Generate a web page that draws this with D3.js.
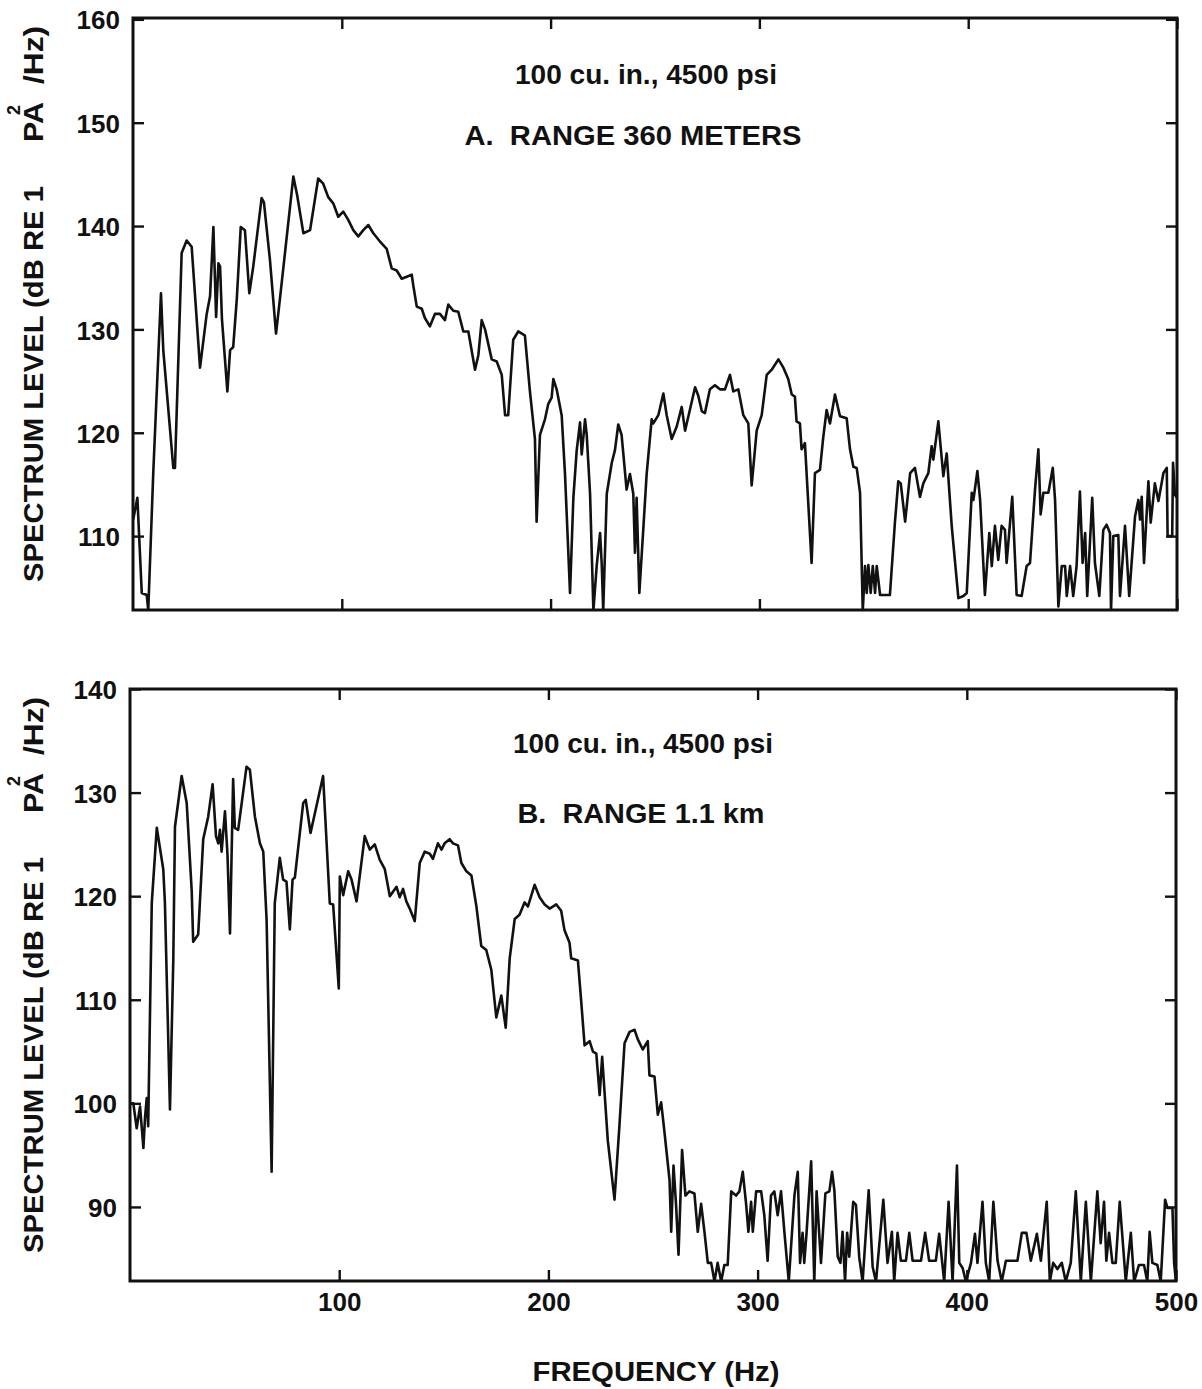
<!DOCTYPE html>
<html>
<head>
<meta charset="utf-8">
<title>Spectrum level - 100 cu. in., 4500 psi</title>
<script src="https://d3js.org/d3.v7.min.js"></script>
<style>
  body { margin: 0; background: #fff; }
  text { font-family: "Liberation Sans", Arial, Helvetica, sans-serif; font-weight: bold; fill: #111; white-space: pre; }
  .tick text { font-size: 26px; }
  .tick line { stroke: #111; stroke-width: 2.4px; }
</style>
</head>
<body>
<script>
// spectrum level (dB re 1 Pa^2/Hz) against frequency (Hz)
var spectrumA = [[0.1,111.6],[2.1,113.7],[4.2,104.5],[6.6,104.3],[7.3,102.8],[9.7,116.1],[13.4,133.5],[14.5,128.0],[19.3,116.6],[20.1,116.6],[23.3,137.4],[25.7,138.6],[28.1,138.0],[32.1,126.3],[35.3,131.5],[36.9,133.2],[38.5,139.9],[39.8,131.2],[40.9,136.4],[41.7,136.1],[42.6,131.0],[45.2,124.0],[46.5,128.0],[48.0,128.3],[49.7,132.9],[51.6,139.9],[53.6,139.6],[55.7,133.5],[57.6,136.1],[61.6,142.7],[62.7,142.3],[65.6,136.7],[68.5,129.6],[70.4,133.0],[76.8,144.8],[78.6,143.0],[81.6,139.3],[84.8,139.6],[88.7,144.6],[91.1,144.1],[93.5,142.8],[95.9,142.2],[98.3,140.9],[100.7,141.4],[103.1,140.6],[105.5,139.6],[107.9,139.0],[110.3,139.6],[112.7,140.1],[115.1,139.3],[118.3,138.5],[121.5,137.8],[123.9,135.9],[126.3,135.7],[128.7,134.9],[131.1,135.1],[133.5,135.3],[134.2,134.3],[135.9,132.2],[138.3,132.0],[139.8,131.1],[142.2,130.3],[144.6,131.5],[147.0,131.5],[149.4,130.9],[151.0,132.4],[153.4,131.8],[155.8,131.7],[158.2,129.8],[160.6,129.8],[163.8,126.1],[165.4,127.5],[167.0,130.9],[168.6,130.0],[171.8,127.1],[174.2,126.9],[176.6,125.6],[178.2,121.7],[179.7,121.7],[182.1,129.0],[184.5,129.8],[186.2,129.6],[187.7,129.4],[190.1,124.0],[192.5,119.4],[193.3,111.4],[194.9,119.8],[197.3,121.3],[198.9,122.8],[200.5,123.4],[201.3,125.2],[202.9,124.2],[205.3,121.7],[206.9,116.0],[209.3,104.5],[210.9,113.7],[212.5,118.3],[214.1,121.0],[214.9,117.9],[216.5,121.3],[217.3,119.8],[218.9,114.1],[220.5,102.8],[222.1,107.2],[223.7,110.3],[224.5,107.2],[225.2,102.8],[226.9,114.1],[229.3,117.1],[230.8,118.3],[232.4,120.8],[234.0,119.8],[236.4,114.5],[238.0,116.0],[239.6,114.1],[240.4,108.4],[241.2,113.7],[242.5,104.5],[244.4,110.7],[246.0,116.0],[248.4,121.3],[249.2,120.9],[251.6,121.7],[254.0,123.8],[255.6,121.7],[258.0,119.4],[260.4,120.6],[262.8,122.5],[264.4,120.2],[266.8,122.3],[269.2,124.4],[270.7,123.6],[272.4,122.1],[273.9,121.9],[276.3,124.2],[278.7,124.6],[281.1,124.2],[283.5,124.2],[285.9,125.6],[287.5,124.0],[289.9,124.2],[292.3,121.7],[294.7,120.9],[296.3,114.9],[298.7,120.2],[301.1,121.7],[303.5,125.6],[305.9,126.1],[309.1,127.1],[311.5,126.3],[313.8,125.2],[315.5,123.7],[317.0,123.5],[317.8,121.1],[319.4,120.9],[320.2,118.4],[321.8,119.0],[325.0,107.4],[326.6,116.1],[329.0,116.4],[330.6,119.6],[332.2,122.2],[333.8,120.9],[336.2,123.7],[338.6,121.6],[341.8,121.4],[343.4,118.4],[345.0,116.7],[346.6,116.6],[348.2,114.2],[349.5,102.8],[350.6,107.1],[351.4,104.5],[352.2,107.2],[353.3,104.5],[354.3,107.1],[355.4,104.5],[356.2,107.1],[357.8,104.3],[362.5,104.3],[364.9,111.3],[366.5,115.3],[367.7,115.1],[369.8,111.4],[372.2,116.1],[374.5,116.6],[376.9,113.8],[378.5,115.1],[380.9,116.1],[382.5,118.7],[383.3,117.4],[385.7,121.1],[388.1,115.8],[389.7,118.0],[392.1,111.0],[395.3,104.0],[397.7,104.2],[399.3,104.5],[401.7,114.2],[402.5,113.5],[404.4,116.3],[405.7,113.5],[408.0,104.3],[410.1,110.3],[411.3,107.1],[412.8,111.0],[414.4,107.7],[416.0,111.0],[417.6,110.6],[418.4,107.4],[421.1,113.8],[423.2,104.3],[425.6,104.2],[428.0,107.1],[429.6,107.4],[432.0,114.5],[433.6,118.4],[434.7,112.1],[436.0,114.2],[438.4,114.2],[440.5,116.6],[441.6,113.5],[443.2,103.2],[444.8,107.1],[446.4,107.1],[447.2,104.2],[448.8,107.1],[450.3,104.2],[451.9,107.1],[453.5,114.3],[454.8,107.4],[456.0,110.3],[457.0,104.2],[459.4,113.7],[460.7,107.4],[462.8,104.2],[464.7,110.6],[466.3,111.1],[467.9,110.3],[468.4,102.8],[469.5,110.0],[471.9,110.1],[472.7,104.2],[475.1,111.0],[477.1,104.2],[479.9,111.9],[481.5,113.5],[482.3,111.6],[483.1,113.8],[484.2,107.4],[486.3,115.3],[487.4,111.3],[489.4,115.1],[491.1,113.4],[493.5,116.1],[495.1,116.6],[495.5,110.0],[497.7,110.0],[498.1,117.1],[499.0,114.0],[500,113.7]];

var spectrumB = [[0,100.0],[1.6,100.0],[3.2,97.6],[4.8,99.7],[6.4,95.7],[7.2,98.7],[8.0,100.5],[8.7,97.8],[10.4,119.3],[12.8,126.6],[15.9,122.6],[16.7,119.3],[19.1,99.4],[20.7,113.9],[21.5,126.7],[24.7,131.6],[27.1,129.0],[29.5,120.5],[30.2,115.6],[32.6,116.3],[35.0,125.5],[37.4,127.7],[39.5,130.8],[41.1,125.8],[42.2,125.1],[43.0,126.4],[43.8,124.3],[45.4,128.2],[46.6,124.0],[47.8,116.4],[49.3,131.3],[50.1,126.6],[51.7,126.4],[55.7,132.5],[57.3,132.2],[59.7,127.7],[62.1,125.1],[63.7,124.3],[65.3,117.7],[67.7,93.4],[69.2,119.3],[71.6,123.7],[73.2,121.6],[74.8,121.4],[76.4,116.8],[77.7,121.6],[78.8,121.8],[82.8,129.0],[84.0,129.3],[86.3,126.1],[92.3,131.6],[95.5,119.3],[97.1,119.2],[99.8,111.1],[100.3,121.9],[101.9,120.1],[104.3,122.4],[105.9,121.6],[108.3,119.5],[112.2,125.8],[114.6,124.5],[117.0,125.0],[119.4,123.5],[121.8,122.6],[124.2,120.0],[127.4,120.9],[128.9,119.9],[130.5,120.7],[132.1,119.5],[133.7,118.8],[136.1,117.6],[138.5,123.2],[140.9,124.3],[143.3,124.1],[144.8,123.6],[147.2,125.1],[148.9,124.5],[150.4,125.1],[152.8,125.5],[154.4,125.1],[156.8,124.9],[158.4,123.2],[160.8,122.4],[163.2,122.0],[165.6,119.0],[167.9,115.2],[170.3,114.8],[172.7,112.9],[175.1,108.3],[177.5,110.4],[179.6,107.3],[181.5,114.0],[183.9,117.8],[186.2,118.2],[188.6,119.4],[190.2,119.0],[193.4,121.1],[195.8,119.9],[198.2,119.2],[200.6,118.8],[203.8,119.2],[206.1,118.6],[207.7,116.7],[210.1,115.5],[210.9,114.0],[214.1,113.8],[215.7,109.8],[217.3,105.6],[219.7,106.0],[221.3,105.0],[222.9,104.8],[224.5,100.8],[225.7,104.5],[228.4,96.4],[231.6,90.7],[234.0,98.0],[236.4,105.8],[238.8,106.9],[241.2,107.1],[242.7,106.2],[245.1,105.2],[247.5,106.0],[248.3,102.7],[250.7,102.6],[252.3,98.9],[253.9,100.1],[255.5,97.2],[257.9,92.6],[258.7,87.6],[259.8,94.0],[261.0,90.3],[262.2,85.4],[263.9,95.5],[265.5,91.1],[267.4,91.5],[269.8,91.3],[271.4,87.6],[273.0,90.3],[274.6,87.6],[276.2,84.6],[277.8,84.6],[279.4,82.8],[280.9,84.6],[282.6,82.8],[284.1,84.4],[285.7,84.4],[287.4,91.5],[289.7,91.1],[291.3,91.5],[292.9,93.4],[294.5,90.3],[295.6,87.6],[296.9,90.5],[297.7,87.6],[299.3,91.5],[301.7,91.5],[303.2,89.2],[304.8,84.8],[306.4,91.1],[308.0,91.5],[309.6,89.2],[311.2,91.5],[312.8,87.6],[314.9,82.8],[317.6,91.1],[319.2,93.4],[320.3,84.6],[321.5,87.5],[322.3,84.6],[323.4,87.5],[325.6,94.4],[327.1,82.8],[328.2,91.5],[330.3,84.6],[332.4,91.3],[334.3,91.5],[335.6,93.4],[336.7,91.6],[338.3,85.2],[339.6,84.6],[340.6,87.6],[341.8,82.8],[342.8,87.5],[343.8,85.2],[345.7,90.5],[347.0,90.2],[348.6,85.1],[350.2,82.8],[353.1,91.6],[355.0,84.2],[356.6,82.8],[360.1,90.7],[362.1,84.6],[364.2,87.6],[365.3,82.8],[366.9,87.5],[368.5,84.8],[370.9,84.8],[372.5,87.5],[374.1,84.8],[378.1,84.8],[380.1,87.5],[382.0,84.8],[385.2,84.8],[386.8,87.4],[389.2,82.8],[391.3,90.5],[393.2,82.8],[395.3,94.0],[396.4,84.6],[398.0,84.1],[399.6,82.8],[402.0,84.6],[403.9,87.4],[405.1,84.6],[407.5,90.5],[409.1,84.6],[410.7,82.8],[412.7,90.5],[414.7,84.8],[416.7,82.8],[418.7,84.8],[424.2,84.8],[426.3,87.5],[428.5,87.5],[430.6,84.8],[433.5,87.4],[435.4,84.8],[438.2,90.5],[439.7,82.8],[441.3,84.6],[443.3,84.0],[445.4,84.6],[447.3,82.8],[449.7,84.6],[452.1,91.5],[454.5,82.8],[456.9,90.5],[459.3,82.8],[462.4,91.5],[464.0,86.5],[465.6,90.5],[466.7,84.8],[468.0,87.5],[469.6,84.6],[471.2,84.6],[473.1,90.5],[476.0,82.8],[478.4,87.5],[480.0,82.8],[482.3,84.4],[484.7,84.4],[486.3,82.8],[487.4,87.6],[488.7,84.6],[491.1,84.4],[492.7,82.8],[494.8,90.7],[495.9,89.9],[498.3,89.9],[499.1,84.6],[500,82.8]];

var xTicks = [100, 200, 300, 400, 500];
var yTicksA = [110, 120, 130, 140, 150, 160];
var yTicksB = [90, 100, 110, 120, 130, 140];

var sourceNote = "100 cu. in., 4500 psi";
var rangeNoteA = "A.  RANGE 360 METERS";
var rangeNoteB = "B.  RANGE 1.1 km";
var xTitle = "FREQUENCY (Hz)";

var w = 1202, h = 1389;

var svg = d3.select("body").append("svg")
  .attr("width", w)
  .attr("height", h);

var panels = [
  { id: "A", data: spectrumA, yDomain: [102.85, 160.13], yTicks: yTicksA,
    left: 133, right: 1177, top: 18, bottom: 610, xLabels: false,
    notes: [ {t: sourceNote, cx: 646, y: 84, len: 262}, {t: rangeNoteA, cx: 633, y: 145, len: 337} ] },
  { id: "B", data: spectrumB, yDomain: [82.85, 140.0], yTicks: yTicksB,
    left: 130, right: 1176, top: 689, bottom: 1281, xLabels: true,
    notes: [ {t: sourceNote, cx: 643, y: 753, len: 260}, {t: rangeNoteB, cx: 641, y: 823, len: 247} ] }
];

panels.forEach(function(p) {
  var g = svg.append("g").attr("class", "panel-" + p.id);

  var x = d3.scaleLinear().domain([0, 500]).range([p.left, p.right]);
  var y = d3.scaleLinear().domain(p.yDomain).range([p.bottom, p.top]);

  g.append("clipPath").attr("id", "clip" + p.id)
    .append("rect")
      .attr("x", p.left).attr("y", p.top)
      .attr("width", p.right - p.left).attr("height", p.bottom - p.top);

  var line = d3.line()
    .x(function(d) { return x(d[0]); })
    .y(function(d) { return y(d[1]); });

  g.append("path")
    .datum(p.data)
    .attr("clip-path", "url(#clip" + p.id + ")")
    .attr("d", line)
    .attr("fill", "none")
    .attr("stroke", "#111")
    .attr("stroke-width", 2.6)
    .attr("stroke-linejoin", "round");

  // ticks point inwards on all four sides, numbers only left (and bottom on panel B)
  var axL = g.append("g").attr("transform", "translate(" + p.left + ",0)")
    .call(d3.axisLeft(y).tickValues(p.yTicks).tickSize(-11).tickPadding(13).tickFormat(d3.format("d")));
  var axR = g.append("g").attr("transform", "translate(" + p.right + ",0)")
    .call(d3.axisRight(y).tickValues(p.yTicks).tickSize(-11).tickFormat(""));
  var axT = g.append("g").attr("transform", "translate(0," + p.top + ")")
    .call(d3.axisTop(x).tickValues(xTicks).tickSize(-11).tickFormat(""));
  var axB = g.append("g").attr("transform", "translate(0," + p.bottom + ")")
    .call(d3.axisBottom(x).tickValues(xTicks).tickSize(-11).tickPadding(12)
      .tickFormat(p.xLabels ? d3.format("d") : ""));

  [axL, axR, axT, axB].forEach(function(a) {
    a.attr("font-family", null).attr("font-size", null);
    a.select(".domain").remove();
  });
  axL.selectAll(".tick text").attr("dy", "0.37em");

  // frame
  g.append("rect")
    .attr("x", p.left).attr("y", p.top)
    .attr("width", p.right - p.left).attr("height", p.bottom - p.top)
    .attr("fill", "none")
    .attr("stroke", "#111")
    .attr("stroke-width", 3);

  p.notes.forEach(function(n) {
    g.append("text")
      .attr("x", n.cx - n.len / 2)
      .attr("y", n.y)
      .attr("textLength", n.len)
      .attr("lengthAdjust", "spacingAndGlyphs")
      .style("font-size", "27px")
      .text(n.t);
  });

  // y title, set as pieces the way the typewriter spaced them
  var pieces = [
    {t: "SPECTRUM LEVEL (dB RE 1", from: 564, len: 396, size: 28, bx: 43},
    {t: "PA", from: 124, len: 40, size: 28, bx: 43},
    {t: "2", from: 97, len: 10, size: 18, bx: 20},
    {t: "/Hz)", from: 66, len: 58, size: 28, bx: 43}
  ];
  pieces.forEach(function(s) {
    g.append("text")
      .attr("transform", "translate(" + s.bx + "," + (p.top + s.from) + ") rotate(-90)")
      .attr("textLength", s.len)
      .attr("lengthAdjust", "spacingAndGlyphs")
      .style("font-size", s.size + "px")
      .text(s.t);
  });
});

svg.append("text")
  .attr("x", 656 - 247 / 2)
  .attr("y", 1381)
  .attr("textLength", 247)
  .attr("lengthAdjust", "spacingAndGlyphs")
  .style("font-size", "27px")
  .text(xTitle);
</script>
</body>
</html>
